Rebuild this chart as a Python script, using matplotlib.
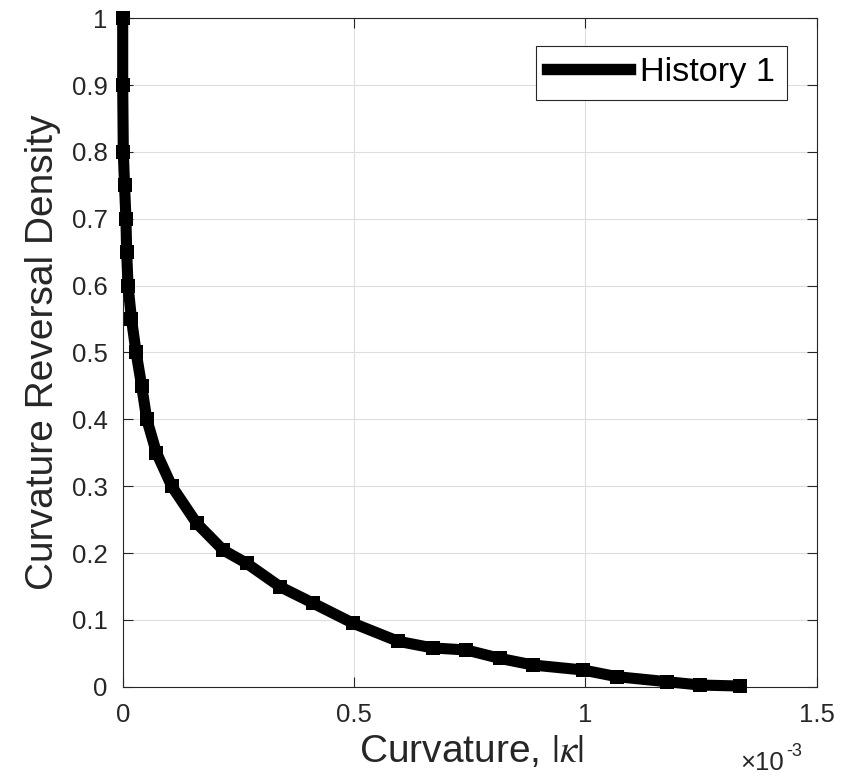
import numpy as np
import matplotlib
matplotlib.use("Agg")
import matplotlib.pyplot as plt
from matplotlib.lines import Line2D

plt.rcParams['font.family'] = ['Liberation Sans', 'DejaVu Sans']
plt.rcParams['mathtext.fontset'] = 'stix'

# Data (curvature in units of 1e-3)
kappa_e3 = [0.0, 0.0, 0.0013, 0.004, 0.007, 0.0086, 0.0115, 0.019, 0.029, 0.041,
            0.052, 0.073, 0.106, 0.160, 0.217, 0.268, 0.340, 0.412, 0.498, 0.595,
            0.67, 0.743, 0.815, 0.887, 0.995, 1.068, 1.176, 1.248, 1.334]
density = [1.0, 0.9, 0.8, 0.75, 0.7, 0.65, 0.6, 0.55, 0.5, 0.45,
           0.4, 0.35, 0.3, 0.2445, 0.2045, 0.1846, 0.1496, 0.1248, 0.0949, 0.068,
           0.058, 0.0549, 0.0424, 0.0324, 0.025, 0.015, 0.0075, 0.0025, 0.001]
series_label = "History 1"
xticks_e3 = [0, 0.5, 1, 1.5]
xtick_labels = ["0", "0.5", "1", "1.5"]
yticks = [0, 0.1, 0.2, 0.3, 0.4, 0.5, 0.6, 0.7, 0.8, 0.9, 1.0]
ytick_labels = ["0", "0.1", "0.2", "0.3", "0.4", "0.5", "0.6", "0.7", "0.8", "0.9", "1"]

kappa = np.array(kappa_e3) * 1e-3

fig = plt.figure(figsize=(8.5, 7.83), dpi=100)
ax = fig.add_axes([0.14435, 0.12299, 0.81647, 0.85364])

ax.plot(kappa, density, color='black', linewidth=8, marker='s', markersize=9.5,
        markeredgewidth=0, solid_joinstyle='miter', clip_on=False, zorder=3)

ax.set_xlim(0, 1.5e-3)
ax.set_ylim(0, 1)
ax.set_xticks(np.array(xticks_e3) * 1e-3)
ax.set_xticklabels(xtick_labels)
ax.set_yticks(yticks)
ax.set_yticklabels(ytick_labels)

ax.grid(True, color='#dedede', linewidth=0.8)
ax.set_axisbelow(True)
for s in ax.spines.values():
    s.set_color('#262626')
    s.set_linewidth(0.8)
ax.tick_params(direction='in', length=7, width=0.8, color='#262626',
               labelcolor='#262626', labelsize=18.5, top=True, right=True)
ax.tick_params(axis='x', pad=12)
ax.tick_params(axis='y', pad=11)

ax.set_xlabel(r"Curvature, $|\kappa|$", fontsize=28, color='#262626')
ax.xaxis.set_label_coords(0.5026, -0.071)
ax.set_ylabel("Curvature Reversal Density", fontsize=28, color='#262626')
ax.yaxis.set_label_coords(-0.089, 0.5)

# exponent label
ax.text(0.8895, -0.1246, "×10", transform=ax.transAxes, fontsize=18.5,
        color='#262626', ha='left', va='baseline')
ax.text(0.956, -0.104, "-3", transform=ax.transAxes, fontsize=13,
        color='#262626', ha='left', va='baseline')

handle = Line2D([], [], color='black', linewidth=8.2)
leg = ax.legend([handle], [series_label], loc='upper right',
                bbox_to_anchor=(0.9568, 0.959), borderaxespad=0,
                fontsize=24.7, handlelength=2.4, handletextpad=0.31,
                borderpad=0.34, fancybox=False, framealpha=1, edgecolor='#262626')
leg.get_frame().set_linewidth(0.8)
for t in leg.get_texts():
    t.set_color('black')

fig.savefig("out.png", dpi=100)
